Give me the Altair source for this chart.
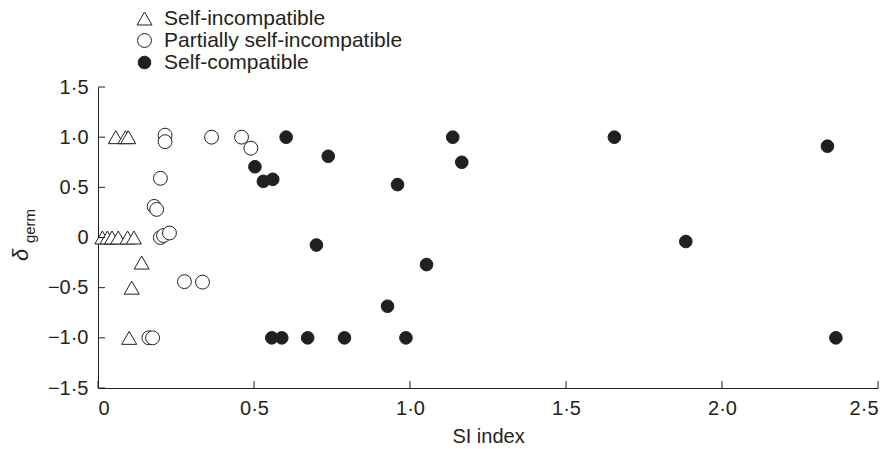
import altair as alt
import pandas as pd

categories = ["Self-incompatible", "Partially self-incompatible", "Self-compatible"]

si_x = [0.057, 0.088, 0.097, 0.014, 0.030, 0.045, 0.065, 0.095, 0.115, 0.140, 0.108, 0.100]
si_y = [1.0, 1.0, 1.0, 0.0, 0.0, 0.0, 0.0, 0.0, 0.0, -0.25, -0.5, -1.0]

psi_x = [0.215, 0.215, 0.364, 0.460, 0.490, 0.200, 0.180, 0.188, 0.200, 0.210, 0.229,
         0.277, 0.335, 0.163, 0.175]
psi_y = [1.02, 0.955, 1.0, 1.0, 0.89, 0.59, 0.31, 0.28, 0.0, 0.02, 0.045,
         -0.44, -0.445, -1.0, -1.0]

sc_x = [0.503, 0.530, 0.560, 0.603, 0.738, 0.960, 0.700, 0.928, 0.557, 0.589, 0.672,
        0.790, 0.987, 1.053, 1.137, 1.166, 1.655, 1.884, 2.338, 2.365]
sc_y = [0.705, 0.56, 0.58, 1.0, 0.81, 0.527, -0.075, -0.685, -1.0, -1.0, -1.0,
        -1.0, -1.0, -0.27, 1.0, 0.75, 1.0, -0.04, 0.91, -1.0]

x_ticks = [0, 0.5, 1.0, 1.5, 2.0, 2.5]
y_ticks = [-1.5, -1.0, -0.5, 0, 0.5, 1.0, 1.5]

rows = []
for cat, xs, ys in zip(categories, [si_x, psi_x, sc_x], [si_y, psi_y, sc_y]):
    for x, y in zip(xs, ys):
        rows.append({"group": cat, "si": x, "delta": y})
df = pd.DataFrame(rows)

W, H = 780, 301
INK = "#231f20"
FONT = "Liberation Sans"
FS = 20
label_expr = "datum.value == 0 ? '0' : replace(format(datum.value, '.1f'), '.', '·')"

xscale = alt.Scale(domain=[0, 2.5], nice=False, zero=False)
yscale = alt.Scale(domain=[-1.5, 1.5], nice=False)

x_axis = alt.Axis(values=x_ticks, labelExpr=label_expr, ticks=False, tickSize=0,
                  labelPadding=10, title="SI index", titlePadding=8, grid=False)
y_axis = alt.Axis(values=y_ticks, labelExpr=label_expr, ticks=False, tickSize=0,
                  labelPadding=10, title=None, grid=False)

points = alt.Chart(df).mark_point(strokeWidth=1, opacity=1).encode(
    x=alt.X("si:Q", scale=xscale, axis=x_axis),
    y=alt.Y("delta:Q", scale=yscale, axis=y_axis),
    shape=alt.Shape("group:N", scale=alt.Scale(domain=categories,
                    range=["triangle-up", "circle", "circle"]), title=None),
    fill=alt.Fill("group:N", scale=alt.Scale(domain=categories,
                  range=["white", "white", INK]), title=None),
    stroke=alt.Stroke("group:N", scale=alt.Scale(domain=categories,
                      range=[INK, INK, INK]), title=None),
    size=alt.Size("group:N", scale=alt.Scale(domain=categories,
                  range=[225, 160, 175]), title=None),
)

ytick_df = pd.DataFrame({"delta": y_ticks})
xtick_df = pd.DataFrame({"si": x_ticks})
yticks = alt.Chart(ytick_df).mark_rule(color=INK, strokeWidth=1).encode(
    y=alt.Y("delta:Q", scale=yscale, axis=y_axis), x=alt.value(0), x2=alt.value(7))
xticks = alt.Chart(xtick_df).mark_rule(color=INK, strokeWidth=1).encode(
    x=alt.X("si:Q", scale=xscale, axis=x_axis), y=alt.value(H), y2=alt.value(H - 7))

one = pd.DataFrame({"a": [0]})
delta_t = alt.Chart(one).mark_text(text="δ", font=FONT, fontSize=22, fontStyle="italic",
                                   angle=270, color=INK, align="center",
                                   baseline="middle").encode(
    x=alt.value(-77), y=alt.value(168))
germ_t = alt.Chart(one).mark_text(text="germ", font=FONT, fontSize=15, angle=270,
                                  color=INK, align="center", baseline="middle").encode(
    x=alt.value(-68), y=alt.value(139))

chart = alt.layer(points, yticks, xticks, delta_t, germ_t).properties(
    width=W, height=H,
    autosize=alt.AutoSizeParams(type="none"),
    padding={"left": 98, "top": 87, "right": 15, "bottom": 61},
).configure_view(stroke=None).configure_axis(
    domainColor=INK, domainWidth=1, labelColor=INK, titleColor=INK,
    labelFont=FONT, titleFont=FONT, labelFontSize=FS, titleFontSize=FS,
    titleFontWeight="normal",
).configure_legend(
    orient="none", legendX=36, legendY=-79, labelFont=FONT, labelFontSize=21,
    labelColor=INK, symbolStrokeWidth=1, labelOffset=9, labelLimit=500,
    rowPadding=0,
)

chart.save("out.html", embed_options={"renderer": "svg", "actions": False})
